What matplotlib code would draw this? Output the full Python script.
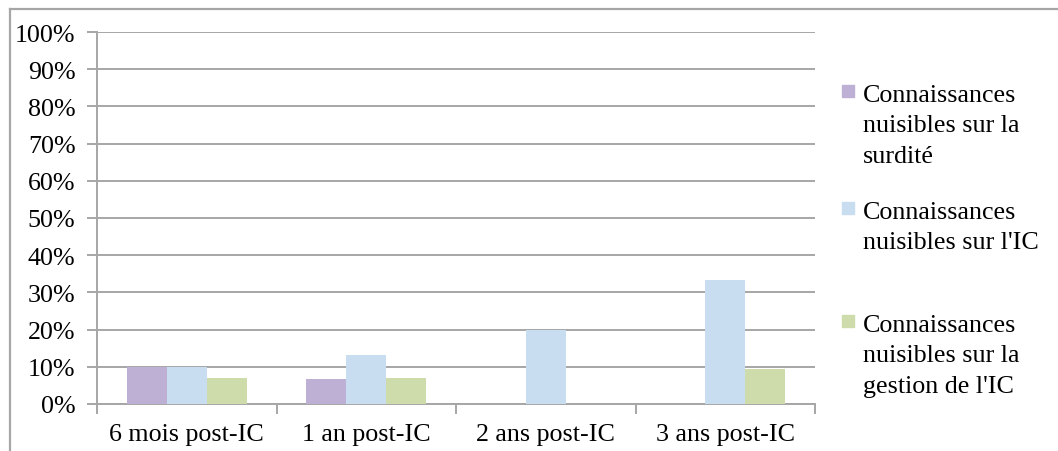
import numpy as np
import matplotlib
matplotlib.use("Agg")
import matplotlib.pyplot as plt
from matplotlib.lines import Line2D
from matplotlib.patches import Rectangle

plt.rcParams['font.family'] = ['Liberation Serif', 'DejaVu Serif']

categories = ["6 mois post-IC", "1 an post-IC", "2 ans post-IC", "3 ans post-IC"]
series_labels = ["Connaissances\nnuisibles sur la\nsurdité",
                 "Connaissances\nnuisibles sur l'IC",
                 "Connaissances\nnuisibles sur la\ngestion de l'IC"]
surdite = [10.0, 6.7, 0.0, 0.0]
ic = [10.0, 13.3, 20.0, 33.3]
gestion = [7.0, 7.0, 0.0, 9.3]
y_ticks = [0, 10, 20, 30, 40, 50, 60, 70, 80, 90, 100]

colors = ['#bdb0d4', '#c9ddf1', '#cedcab']
grid_col = '#a6a6a6'
fs = 18.7

W, H = 1058, 452
fig = plt.figure(figsize=(W / 100, H / 100), dpi=100)
ax = fig.add_axes([97 / W, 1 - 405 / H, (815 - 97) / W, (405 - 33) / H])

x = np.arange(len(categories))
bw = 0.223
for k, vals in enumerate([surdite, ic, gestion]):
    ax.bar(x + (k - 1) * bw, vals, bw, color=colors[k], zorder=3, linewidth=0)

ax.set_xlim(-0.5, len(categories) - 0.5)
ax.set_ylim(0, 100)
ax.set_yticks(y_ticks)
ax.set_yticklabels([f"{v}%" for v in y_ticks], fontsize=fs)
ax.yaxis.grid(True, color=grid_col, linewidth=1.4, zorder=0)
ax.set_xticks(np.arange(len(categories) + 1) - 0.5)
ax.set_xticklabels([])
ax.set_xticks(x, minor=True)
ax.set_xticklabels(categories, minor=True, fontsize=fs)
ax.tick_params(axis='x', which='minor', length=0, pad=14)
ax.tick_params(axis='x', which='major', length=7, width=1.4, color=grid_col)
ax.tick_params(axis='y', length=7, width=1.4, color=grid_col, pad=8.5)
for s in ['top', 'right']:
    ax.spines[s].set_visible(False)
for s in ['left', 'bottom']:
    ax.spines[s].set_color(grid_col)
    ax.spines[s].set_linewidth(1.4)

# legend drawn by hand to match the uneven spacing
leg_y = [95, 212, 325]
for k in range(3):
    yc = leg_y[k]
    fig.patches.append(Rectangle((842 / W, 1 - (yc + 3) / H), 12 / W, 12 / H,
                                 transform=fig.transFigure, color=colors[k]))
    fig.text(863 / W, 1 - (yc - 10) / H, series_labels[k], fontsize=fs,
             va='top', ha='left', linespacing=1.5)

# outer frame
fig.add_artist(Line2D([10 / W, 10 / W], [0, 1 - 10 / H], transform=fig.transFigure,
                      color=grid_col, linewidth=1.6))
fig.add_artist(Line2D([10 / W, 1], [1 - 10 / H, 1 - 10 / H], transform=fig.transFigure,
                      color=grid_col, linewidth=1.6))

fig.savefig("out.png", dpi=100)
